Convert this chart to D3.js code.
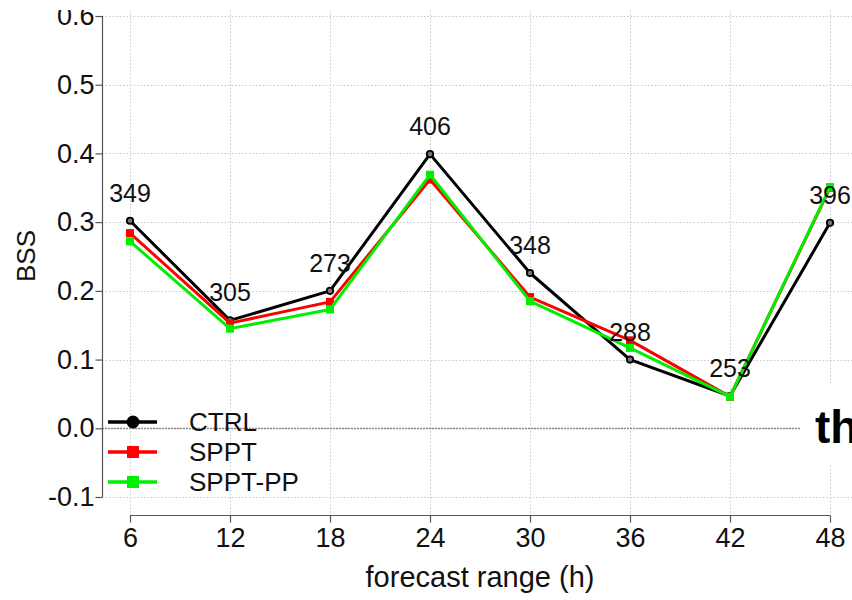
<!DOCTYPE html>
<html>
<head>
<meta charset="utf-8">
<script src="https://cdn.jsdelivr.net/npm/d3@7"></script>
<style>
  html, body { margin: 0; padding: 0; background: #fff; }
  svg { display: block; font-family: "Liberation Sans", Arial, Helvetica, sans-serif; }
</style>
</head>
<body>
<svg id="chart" width="852" height="600"></svg>
<script>
// Forecast ranges (h) and Brier skill scores per experiment
const leadTimes = [6, 12, 18, 24, 30, 36, 42, 48];
const ctrl    = [0.302, 0.157, 0.200, 0.399, 0.226, 0.100, 0.047, 0.299];
const sppt    = [0.284, 0.153, 0.184, 0.362, 0.191, 0.128, 0.046, 0.350];
const spptPP  = [0.272, 0.145, 0.173, 0.369, 0.185, 0.117, 0.046, 0.351];
// Sample counts printed above each lead time
const counts  = [349, 305, 273, 406, 348, 288, 253, 396];
const yTicks  = [-0.1, 0.0, 0.1, 0.2, 0.3, 0.4, 0.5, 0.6];

const series = [
  { name: "CTRL",    values: ctrl,   color: "#000000", shape: "circle" },
  { name: "SPPT",    values: sppt,   color: "#ff0000", shape: "square" },
  { name: "SPPT-PP", values: spptPP, color: "#00ee00", shape: "square" }
];

const svg = d3.select("#chart");

const x = d3.scaleLinear().domain([6, 48]).range([130, 830]);
const y = d3.scaleLinear().domain([-0.1, 0.6]).range([497, 16]);

// plot region padded 4% beyond the data range
const xPad = (48 - 6) * 0.04, yPad = 0.7 * 0.04;
const px0 = x(6 - xPad), px1 = x(48 + xPad);
const py0 = y(0.6 + yPad), py1 = y(-0.1 - yPad);

// grid
const grid = svg.append("g").attr("stroke", "#c8c8c8").attr("stroke-width", 1).attr("stroke-dasharray", "1.5,2");
grid.selectAll("line.h").data(yTicks).join("line")
  .attr("x1", px0).attr("x2", px1)
  .attr("y1", d => Math.round(y(d)) + 0.5).attr("y2", d => Math.round(y(d)) + 0.5);
grid.selectAll("line.v").data(leadTimes).join("line")
  .attr("y1", py0).attr("y2", py1)
  .attr("x1", d => Math.round(x(d)) + 0.5).attr("x2", d => Math.round(x(d)) + 0.5);

// zero reference
svg.append("line")
  .attr("x1", px0).attr("x2", px1)
  .attr("y1", Math.round(y(0)) + 0.5).attr("y2", Math.round(y(0)) + 0.5)
  .attr("stroke", "#8a8a8a").attr("stroke-width", 1.6).attr("stroke-dasharray", "2,1");

// axes (plain hyphen for negative values)
const fmt = d => d3.format(".1f")(d).replace("\u2212", "-");
const yAxis = d3.axisLeft(y).tickValues(yTicks).tickFormat(fmt).tickSizeOuter(0).tickSize(7).tickPadding(1);
const gy = svg.append("g").attr("transform", `translate(${Math.round(x(6 - xPad)) + 0.5},0)`).call(yAxis);
const xAxis = d3.axisBottom(x).tickValues(leadTimes).tickSizeOuter(0).tickSize(7).tickPadding(5);
const gx = svg.append("g").attr("transform", `translate(0,${Math.round(py1) - 0.5})`).call(xAxis);
[gx, gy].forEach(g => {
  g.select(".domain").attr("stroke", "#555").attr("stroke-width", 1.2);
  g.selectAll(".tick line").attr("stroke", "#555").attr("stroke-width", 1.2);
  g.selectAll(".tick text").attr("fill", "#111").style("font-size", "27px")
    .style("font-family", '"Liberation Sans", Arial, sans-serif');
});
gy.select(".domain").attr("d", `M0,${y(0.6)}V${y(-0.1)}`);
gx.select(".domain").attr("d", `M${x(6)},0H${x(48)}`);

// axis titles
svg.append("text").attr("x", 480).attr("y", 587).attr("text-anchor", "middle")
  .style("font-size", "29px").attr("fill", "#111").text("forecast range (h)");
svg.append("text").attr("transform", "translate(35,256) rotate(-90)").attr("text-anchor", "middle")
  .style("font-size", "26px").attr("fill", "#111").text("BSS");

// series lines and markers
const line = d3.line().x((d, i) => x(leadTimes[i])).y(d => y(d));
series.forEach(s => {
  svg.append("path").datum(s.values).attr("d", line)
    .attr("fill", "none").attr("stroke", s.color).attr("stroke-width", 3).attr("stroke-linejoin", "round");
  if (s.shape === "circle") {
    svg.selectAll(null).data(s.values).join("circle")
      .attr("cx", (d, i) => x(leadTimes[i])).attr("cy", d => y(d)).attr("r", 3.2)
      .attr("fill", "#777").attr("stroke", s.color).attr("stroke-width", 1.8);
  } else {
    svg.selectAll(null).data(s.values).join("rect")
      .attr("x", (d, i) => x(leadTimes[i]) - 4).attr("y", d => y(d) - 4)
      .attr("width", 8).attr("height", 8).attr("fill", s.color);
  }
});

// sample-count labels above CTRL points
svg.selectAll("text.count").data(counts).join("text").attr("class", "count")
  .attr("x", (d, i) => x(leadTimes[i])).attr("y", (d, i) => y(ctrl[i]) - 19)
  .attr("text-anchor", "middle").style("font-size", "25px").attr("fill", "#111")
  .text(d => d);

// legend
const legend = svg.append("g");
series.forEach((s, i) => {
  const ly = 422 + i * 30;
  legend.append("line").attr("x1", 108).attr("x2", 157).attr("y1", ly).attr("y2", ly)
    .attr("stroke", s.color).attr("stroke-width", 3.5);
  if (s.shape === "circle") {
    legend.append("circle").attr("cx", 133).attr("cy", ly).attr("r", 6.5).attr("fill", s.color);
  } else {
    legend.append("rect").attr("x", 127).attr("y", ly - 6).attr("width", 12).attr("height", 12).attr("fill", s.color);
  }
  legend.append("text").attr("x", 189).attr("y", ly).attr("dy", "0.35em")
    .style("font-size", "26px").attr("fill", "#111").text(s.name);
});

// overlaid slide text box at the right edge and top margin
svg.append("rect").attr("x", 800).attr("y", 384).attr("width", 52).attr("height", 80).attr("fill", "#fff");
svg.append("text").attr("x", 815).attr("y", 443).style("font-size", "46px").style("font-weight", "bold")
  .attr("fill", "#000").text("th");
svg.append("rect").attr("x", 0).attr("y", 0).attr("width", 852).attr("height", 10).attr("fill", "#fff");
</script>
</body>
</html>
